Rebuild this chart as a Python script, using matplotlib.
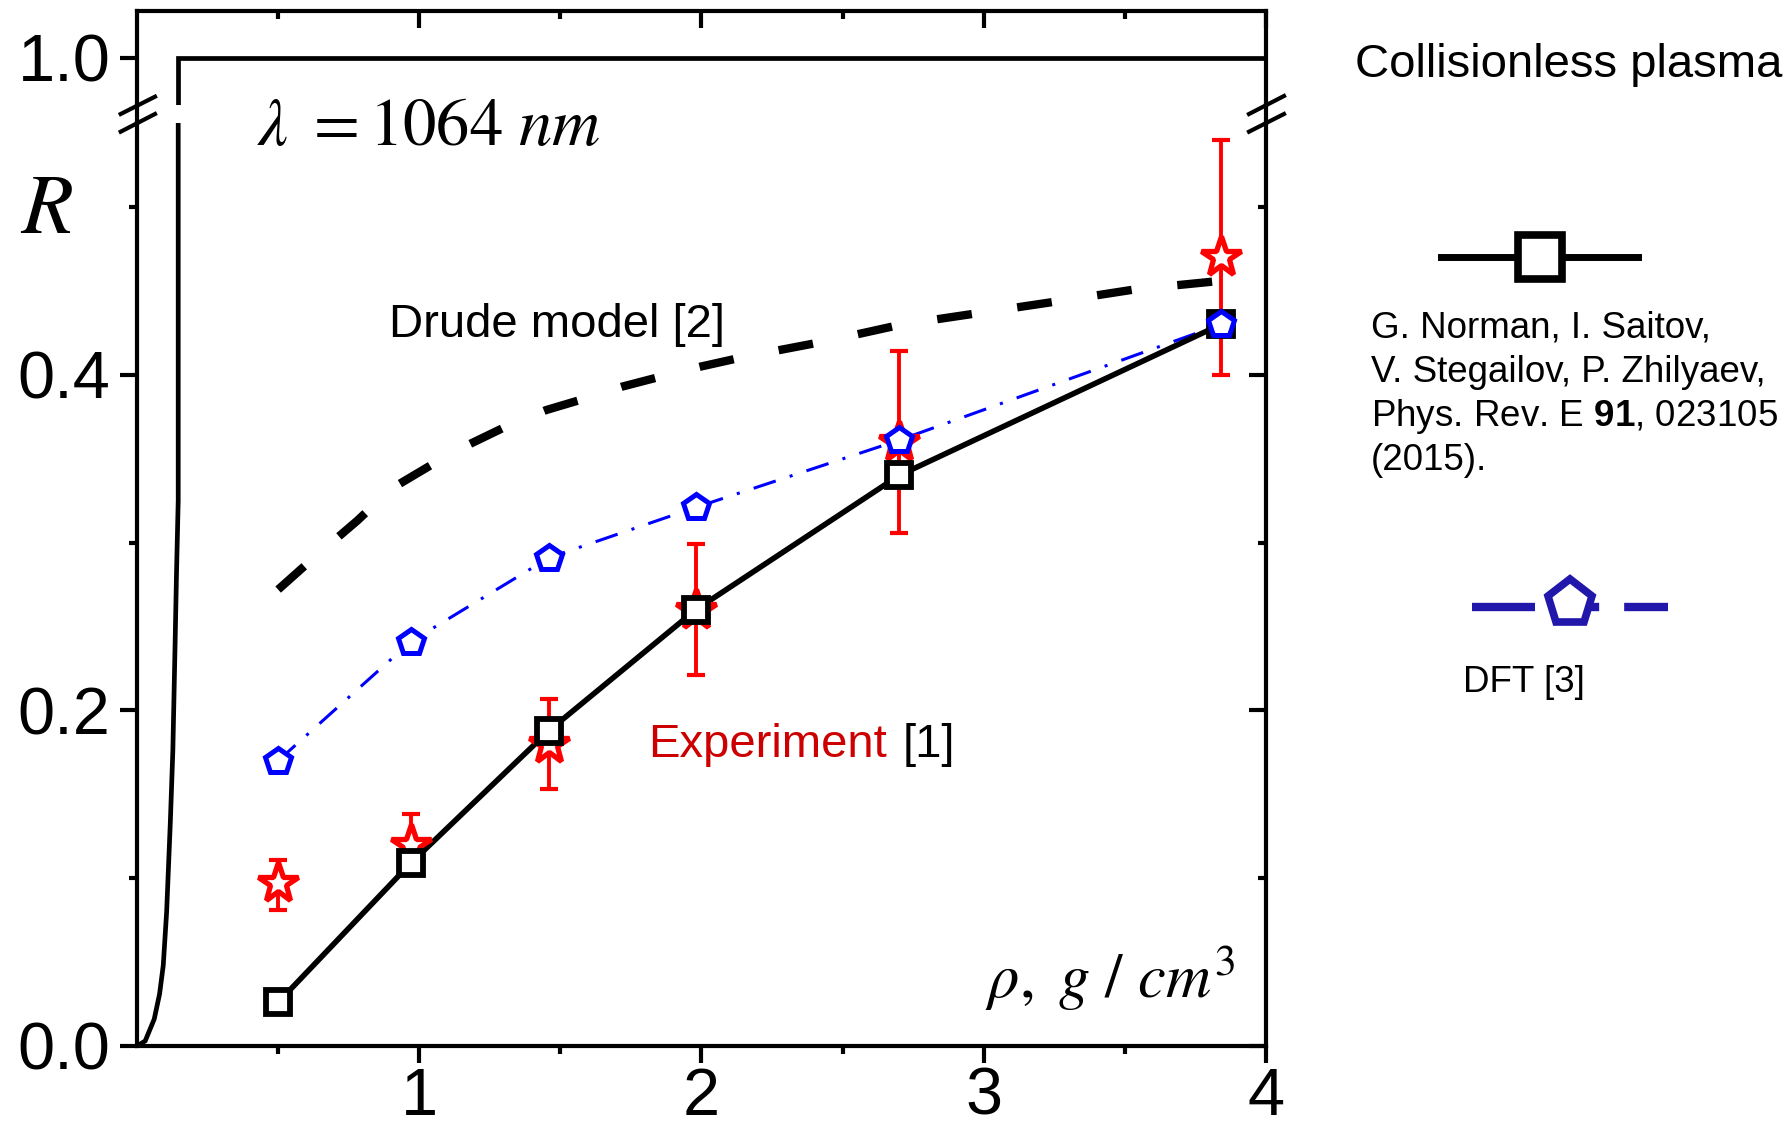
import matplotlib
matplotlib.use('Agg')
import matplotlib.pyplot as plt
from matplotlib.lines import Line2D

plt.rcParams['font.family'] = ['Liberation Sans', 'DejaVu Sans']
plt.rcParams['mathtext.fontset'] = 'custom'
plt.rcParams['mathtext.rm'] = 'Liberation Sans'
plt.rcParams['mathtext.bf'] = 'Liberation Sans:bold'
plt.rcParams['mathtext.it'] = 'Liberation Sans:italic'

# ---------------- data ----------------
rho = [0.50, 0.97, 1.46, 1.98, 2.70, 3.84]
R_norman = [0.026, 0.109, 0.188, 0.260, 0.340, 0.430]
R_dft = [0.170, 0.241, 0.291, 0.321, 0.361, 0.430]
R_exp = [0.097, 0.120, 0.180, 0.260, 0.360, 0.470]
R_exp_hi = [0.111, 0.138, 0.207, 0.299, 0.414, 0.540]
R_exp_lo = [0.081, 0.106, 0.153, 0.221, 0.306, 0.400]

rho_drude = [0.50, 0.62, 0.78, 0.90, 1.06, 1.17, 1.33, 1.45, 1.61, 1.72,
             1.88, 2.00, 2.16, 2.44, 2.71, 2.99, 3.27, 3.54, 3.84]
R_drude = [0.272, 0.290, 0.313, 0.332, 0.348, 0.358, 0.371, 0.379, 0.387, 0.393,
           0.400, 0.405, 0.411, 0.420, 0.430, 0.437, 0.444, 0.451, 0.456]

rho_plasma = [0.0, 0.029, 0.061, 0.080, 0.093, 0.105, 0.118, 0.127, 0.135,
              0.140, 0.146, 0.146, 4.0]
R_plasma = [0.0, 0.003, 0.016, 0.031, 0.048, 0.080, 0.133, 0.176, 0.240,
            0.282, 0.325, 1.0, 1.0]

x_major = [1, 2, 3, 4]
x_minor = [0.5, 1.5, 2.5, 3.5]
x_labels = ['1', '2', '3', '4']
y_major = [0.0, 0.2, 0.4]
y_minor = [0.1, 0.3, 0.5]
y_labels = ['0.0', '0.2', '0.4']
y_top_major = [1.0]
y_top_labels = ['1.0']

# ---------------- layout ----------------
W, H = 1790, 1132
fig = plt.figure(figsize=(W / 100, H / 100), dpi=100)


def fx(x):
    return x / W


def fy(y):
    return 1 - y / H


L, RR = 137, 1266
B_low, T_low = 1046, 123
B_up, T_up = 105, 11
PPU = 1678.0  # pixels per unit of R
Y1 = 58       # pixel row of R = 1.0

ax = fig.add_axes([fx(L), fy(B_low), fx(RR) - fx(L), fy(T_low) - fy(B_low)])
axu = fig.add_axes([fx(L), fy(B_up), fx(RR) - fx(L), fy(T_up) - fy(B_up)])

ax.set_xlim(0, 4)
axu.set_xlim(0, 4)
ax.set_ylim(0, (B_low - T_low) / PPU)
axu.set_ylim(1 - (B_up - Y1) / PPU, 1 + (Y1 - T_up) / PPU)

SLW = 3.0
for a in (ax, axu):
    for s in a.spines.values():
        s.set_linewidth(SLW)
ax.spines['top'].set_visible(False)
axu.spines['bottom'].set_visible(False)

# ---------------- curves ----------------
for a in (ax, axu):
    a.plot(rho_plasma, R_plasma, color='black', lw=3.4, zorder=2,
           solid_joinstyle='miter')

ax.plot(rho_drude, R_drude, color='black', lw=6.0, ls=(0, (4.2, 5.5)),
        dash_capstyle='butt', zorder=2)
ax.plot(rho, R_dft, color='#0000FF', lw=2.2, ls=(0, (7.6, 4.8, 1.0, 4.8)), zorder=2.5)
ax.plot(rho, R_norman, color='black', lw=4.0, zorder=2.5)

yerr = [[r - lo for r, lo in zip(R_exp, R_exp_lo)],
        [hi - r for r, hi in zip(R_exp, R_exp_hi)]]
ax.errorbar(rho, R_exp, yerr=yerr, fmt='none', ecolor='#FF0000', elinewidth=2.8,
            capsize=6.5, capthick=3.0, zorder=3)
ax.plot(rho, R_exp, ls='none', marker='*', ms=30, mew=3.8, mfc='white',
        mec='#FF0000', zorder=4)
ax.plot(rho, R_norman, ls='none', marker='s', ms=17.5, mew=4.2, mfc='white',
        mec='black', zorder=5)
ax.plot(rho, R_dft, ls='none', marker='p', ms=19, mew=3.6, mfc='white',
        mec='#0000FF', zorder=6)

# ---------------- ticks ----------------
TL, TLm, TW = 12, 5.5, 3.0
ax.set_xticks(x_major)
ax.set_xticklabels(x_labels)
ax.set_xticks(x_minor, minor=True)
ax.set_yticks(y_major)
ax.set_yticklabels(y_labels)
ax.set_yticks(y_minor, minor=True)
ax.tick_params(axis='x', which='both', direction='out', top=False, bottom=True,
               labelsize=48, pad=3, width=TW)
ax.tick_params(axis='x', which='major', length=TL)
ax.tick_params(axis='x', which='minor', length=TLm)
ax.tick_params(axis='y', which='both', direction='out', left=True, right=False,
               labelsize=48, pad=7, width=TW)
ax.tick_params(axis='y', which='major', length=TL)
ax.tick_params(axis='y', which='minor', length=TLm)

axr = ax.twinx()
axr.set_ylim(ax.get_ylim())
axr.set_yticks(y_major)
axr.set_yticks(y_minor, minor=True)
axr.tick_params(axis='y', which='both', direction='in', labelright=False, width=TW)
axr.tick_params(axis='y', which='major', length=TL)
axr.tick_params(axis='y', which='minor', length=TLm)
for s in axr.spines.values():
    s.set_visible(False)

axu.set_xticks(x_major)
axu.set_xticks(x_minor, minor=True)
axu.set_yticks(y_top_major)
axu.set_yticklabels(y_top_labels)
axu.set_yticks([], minor=True)
axu.tick_params(axis='x', which='both', direction='in', top=True, bottom=False,
                labelbottom=False, width=TW)
axu.tick_params(axis='x', which='major', length=TL)
axu.tick_params(axis='x', which='minor', length=TLm)
axu.tick_params(axis='y', which='both', direction='out', left=True, right=False,
                labelsize=48, pad=7, width=TW, length=TL)

# ---------------- spine gap fill and break marks ----------------
for xs in (L, RR):
    fig.add_artist(Line2D([fx(xs), fx(xs)], [fy(T_low), fy(B_up)], color='black',
                          lw=SLW, transform=fig.transFigure))
for (x0, y0, x1, y1) in [(120.7, 114, 155, 96.7), (120.7, 131.7, 155, 114),
                         (1249, 114, 1284, 96), (1249, 131.7, 1284, 114)]:
    fig.add_artist(Line2D([fx(x0), fx(x1)], [fy(y0), fy(y1)], color='black',
                          lw=3.0, transform=fig.transFigure, zorder=10))

# ---------------- texts ----------------
fig.text(fx(257), fy(145), r'$\lambda\ = 1064\ nm$', fontsize=48,
         math_fontfamily='stix', ha='left', va='baseline')
fig.text(fx(20), fy(233), r'$R$', fontsize=61, math_fontfamily='stix',
         ha='left', va='baseline')
fig.text(fx(1235), fy(998), r'$\rho,\ g\ /\ cm^3$', fontsize=45,
         math_fontfamily='stix', ha='right', va='baseline')
fig.text(fx(389), fy(337), 'Drude model [2]', fontsize=34, ha='left', va='baseline')
fig.text(fx(648), fy(757), 'Experiment', fontsize=34, color='#CC0000',
         ha='left', va='baseline')
fig.text(fx(903), fy(757), '[1]', fontsize=34, color='black', ha='left',
         va='baseline')
fig.text(fx(1355), fy(77), 'Collisionless plasma', fontsize=34, ha='left',
         va='baseline')

ref_lines = ['G. Norman, I. Saitov,', 'V. Stegailov, P. Zhilyaev,',
             r'Phys. Rev. E $\mathbf{91}$, 023105', '(2015).']
ref_base = [337, 381.5, 426, 470]
for t, yb in zip(ref_lines, ref_base):
    fig.text(fx(1371), fy(yb), t, fontsize=26.5, ha='left', va='baseline')
fig.text(fx(1463), fy(692), 'DFT [3]', fontsize=26.5, ha='left', va='baseline')

# ---------------- legend samples ----------------
fig.add_artist(Line2D([fx(1441), fx(1638)], [fy(257), fy(257)], color='black',
                      lw=5, transform=fig.transFigure))
fig.add_artist(Line2D([fx(1540)], [fy(257)], ls='none', marker='s', ms=32, mew=5.5,
                      mfc='white', mec='black', transform=fig.transFigure))
dft_leg = '#2117AA'
fig.add_artist(Line2D([fx(1472), fx(1668)], [fy(607), fy(607)], color=dft_leg,
                      lw=6, ls=(0, (7.56, 3, 4.7, 3)), dash_capstyle='butt',
                      transform=fig.transFigure))
fig.add_artist(Line2D([fx(1570)], [fy(603)], ls='none', marker='p', ms=34, mew=5.5,
                      mfc='white', mec=dft_leg, transform=fig.transFigure))

fig.savefig('out.png', dpi=100)
